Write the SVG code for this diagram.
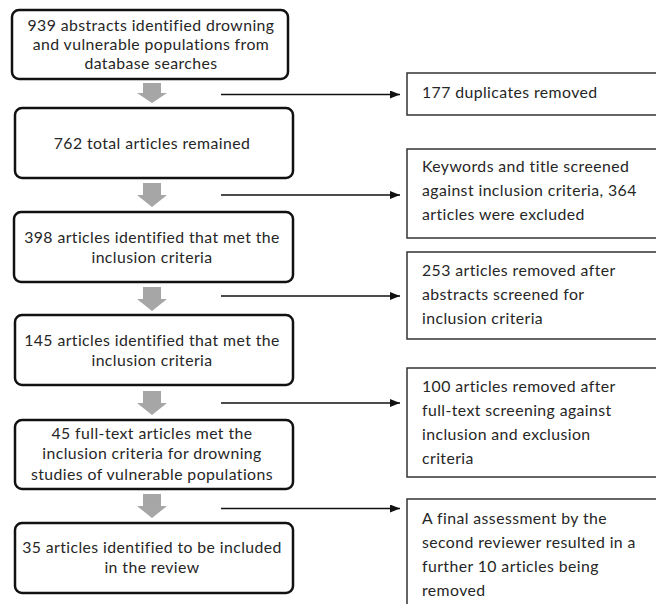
<svg xmlns="http://www.w3.org/2000/svg" width="656" height="604" viewBox="0 0 656 604">
<style>
.lb{fill:#fff;stroke:#111;stroke-width:2.5}
.rb{fill:#fff;stroke:#333;stroke-width:1.5}
.t{font-family:Lato,"Open Sans",sans-serif;font-size:15.8px;letter-spacing:0.42px;fill:#262626}
.c{text-anchor:middle}
.ga{fill:#a6a6a6}
.ln{stroke:#111;stroke-width:1.5;fill:none}
</style>
<defs>
<marker id="ah" markerWidth="10" markerHeight="8" refX="10" refY="4" orient="auto" markerUnits="userSpaceOnUse">
<path d="M0,0 L10,4 L0,8 Z" fill="#111"/>
</marker>
</defs>
<rect width="656" height="604" fill="#fff"/>
<g id="n1"><rect class="lb" x="12" y="10" width="276" height="69" rx="7"/>
<text class="t c" x="151" y="31">939 abstracts identified drowning</text>
<text class="t c" x="151" y="50">and vulnerable populations from</text>
<text class="t c" x="151" y="69">database searches</text></g>
<g id="n2"><rect class="lb" x="15" y="108" width="278" height="70" rx="7"/>
<text class="t c" x="152" y="149">762 total articles remained</text></g>
<g id="n3"><rect class="lb" x="14" y="212" width="279" height="70" rx="7"/>
<text class="t c" x="152" y="243">398 articles identified that met the</text>
<text class="t c" x="152" y="263">inclusion criteria</text></g>
<g id="n4"><rect class="lb" x="15" y="315" width="278" height="70" rx="7"/>
<text class="t c" x="152" y="346">145 articles identified that met the</text>
<text class="t c" x="152" y="366">inclusion criteria</text></g>
<g id="n5"><rect class="lb" x="15" y="420" width="278" height="69" rx="7"/>
<text class="t c" x="152" y="439">45 full-text articles met the</text>
<text class="t c" x="152" y="459">inclusion criteria for drowning</text>
<text class="t c" x="152" y="480">studies of vulnerable populations</text></g>
<g id="n6"><rect class="lb" x="15" y="523" width="278" height="70" rx="7"/>
<text class="t c" x="152" y="553">35 articles identified to be included</text>
<text class="t c" x="152" y="573">in the review</text></g>
<g id="r1"><rect class="rb" x="407" y="73" width="260" height="42"/>
<text class="t" x="422" y="98">177 duplicates removed</text></g>
<g id="r2"><rect class="rb" x="407" y="149" width="260" height="89"/>
<text class="t" x="422" y="172">Keywords and title screened</text>
<text class="t" x="422" y="196">against inclusion criteria, 364</text>
<text class="t" x="422" y="220">articles were excluded</text></g>
<g id="r3"><rect class="rb" x="407" y="252" width="260" height="87"/>
<text class="t" x="422" y="276">253 articles removed after</text>
<text class="t" x="422" y="300">abstracts screened for</text>
<text class="t" x="422" y="324">inclusion criteria</text></g>
<g id="r4"><rect class="rb" x="407" y="368" width="260" height="109"/>
<text class="t" x="422" y="392">100 articles removed after</text>
<text class="t" x="422" y="416">full-text screening against</text>
<text class="t" x="422" y="440">inclusion and exclusion</text>
<text class="t" x="422" y="464">criteria</text></g>
<g id="r5"><rect class="rb" x="407" y="499" width="260" height="120"/>
<text class="t" x="422" y="524">A final assessment by the</text>
<text class="t" x="422" y="548">second reviewer resulted in a</text>
<text class="t" x="422" y="572">further 10 articles being</text>
<text class="t" x="422" y="596">removed</text></g>
<g id="connectors">
<path class="ga" d="M143,83 H161 V93 H167 L152,103 L137,93 H143 Z"/>
<path class="ga" d="M143,183 H161 V195 H167 L152,207 L137,195 H143 Z"/>
<path class="ga" d="M143,287 H161 V299 H167 L152,311 L137,299 H143 Z"/>
<path class="ga" d="M143,391 H161 V403 H167 L152,415 L137,403 H143 Z"/>
<path class="ga" d="M143,494 H161 V506 H167 L152,518 L137,506 H143 Z"/>
<line class="ln" x1="221" y1="94.5" x2="400" y2="94.5" marker-end="url(#ah)"/>
<line class="ln" x1="221" y1="195" x2="400" y2="195" marker-end="url(#ah)"/>
<line class="ln" x1="221" y1="296" x2="400" y2="296" marker-end="url(#ah)"/>
<line class="ln" x1="221" y1="403" x2="400" y2="403" marker-end="url(#ah)"/>
<line class="ln" x1="221" y1="508.5" x2="400" y2="508.5" marker-end="url(#ah)"/>
</g>
</svg>
